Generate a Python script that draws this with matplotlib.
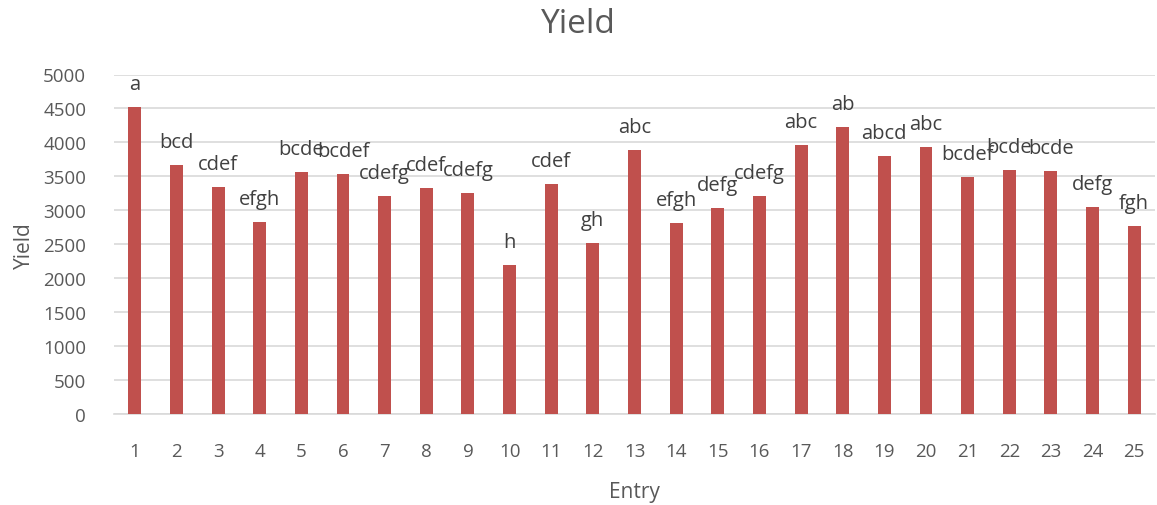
import numpy as np
import matplotlib.pyplot as plt

# yield per entry
entries = list(range(1, 26))
yields = [4520, 3665, 3341, 2834, 3571, 3532, 3208, 3330, 3261, 2191,
          3394, 2515, 3885, 2815, 3031, 3217, 3959, 4234, 3802, 3935,
          3493, 3591, 3576, 3050, 2766]
groups = ['a', 'bcd', 'cdef', 'efgh', 'bcde', 'bcdef', 'cdefg', 'cdef', 'cdefg', 'h',
          'cdef', 'gh', 'abc', 'efgh', 'defg', 'cdefg', 'abc', 'ab', 'abcd', 'abc',
          'bcdef', 'bcde', 'bcde', 'defg', 'fgh']

plt.rcParams['font.family'] = ['Open Sans', 'DejaVu Sans']
txt = '#404040'

fig = plt.figure(figsize=(11.57, 5.06), dpi=100)
ax = fig.add_axes([114 / 1157, 1 - 415 / 506, 1041 / 1157, 339.5 / 506])

ax.bar(entries, yields, width=0.31, color='#C0504D', zorder=3)
for x, y, g in zip(entries, yields, groups):
    ax.text(x, y + 190, g, ha='center', va='bottom', fontsize=14.5, color=txt, zorder=4)

ax.set_xlim(0.5, 25.5)
ax.set_ylim(0, 5000)
ax.set_yticks(np.arange(0, 5001, 500))
ax.set_xticks(entries)
ax.yaxis.grid(True, color='#d9d9d9', linewidth=1.2, zorder=0)
for s in ['top', 'right', 'left']:
    ax.spines[s].set_visible(False)
ax.spines['bottom'].set_color('#d9d9d9')
ax.spines['bottom'].set_linewidth(1.2)
ax.tick_params(length=0, labelsize=13.5, labelcolor='#595959')
ax.tick_params(axis='x', pad=20)
ax.tick_params(axis='y', pad=20)

ax.set_xlabel('Entry', fontsize=15, color='#595959', labelpad=15)
ax.set_ylabel('Yield', fontsize=15, color='#595959', labelpad=6)
fig.suptitle('Yield', fontsize=24, color='#595959', y=0.985)

fig.savefig('out.png', dpi=100)
